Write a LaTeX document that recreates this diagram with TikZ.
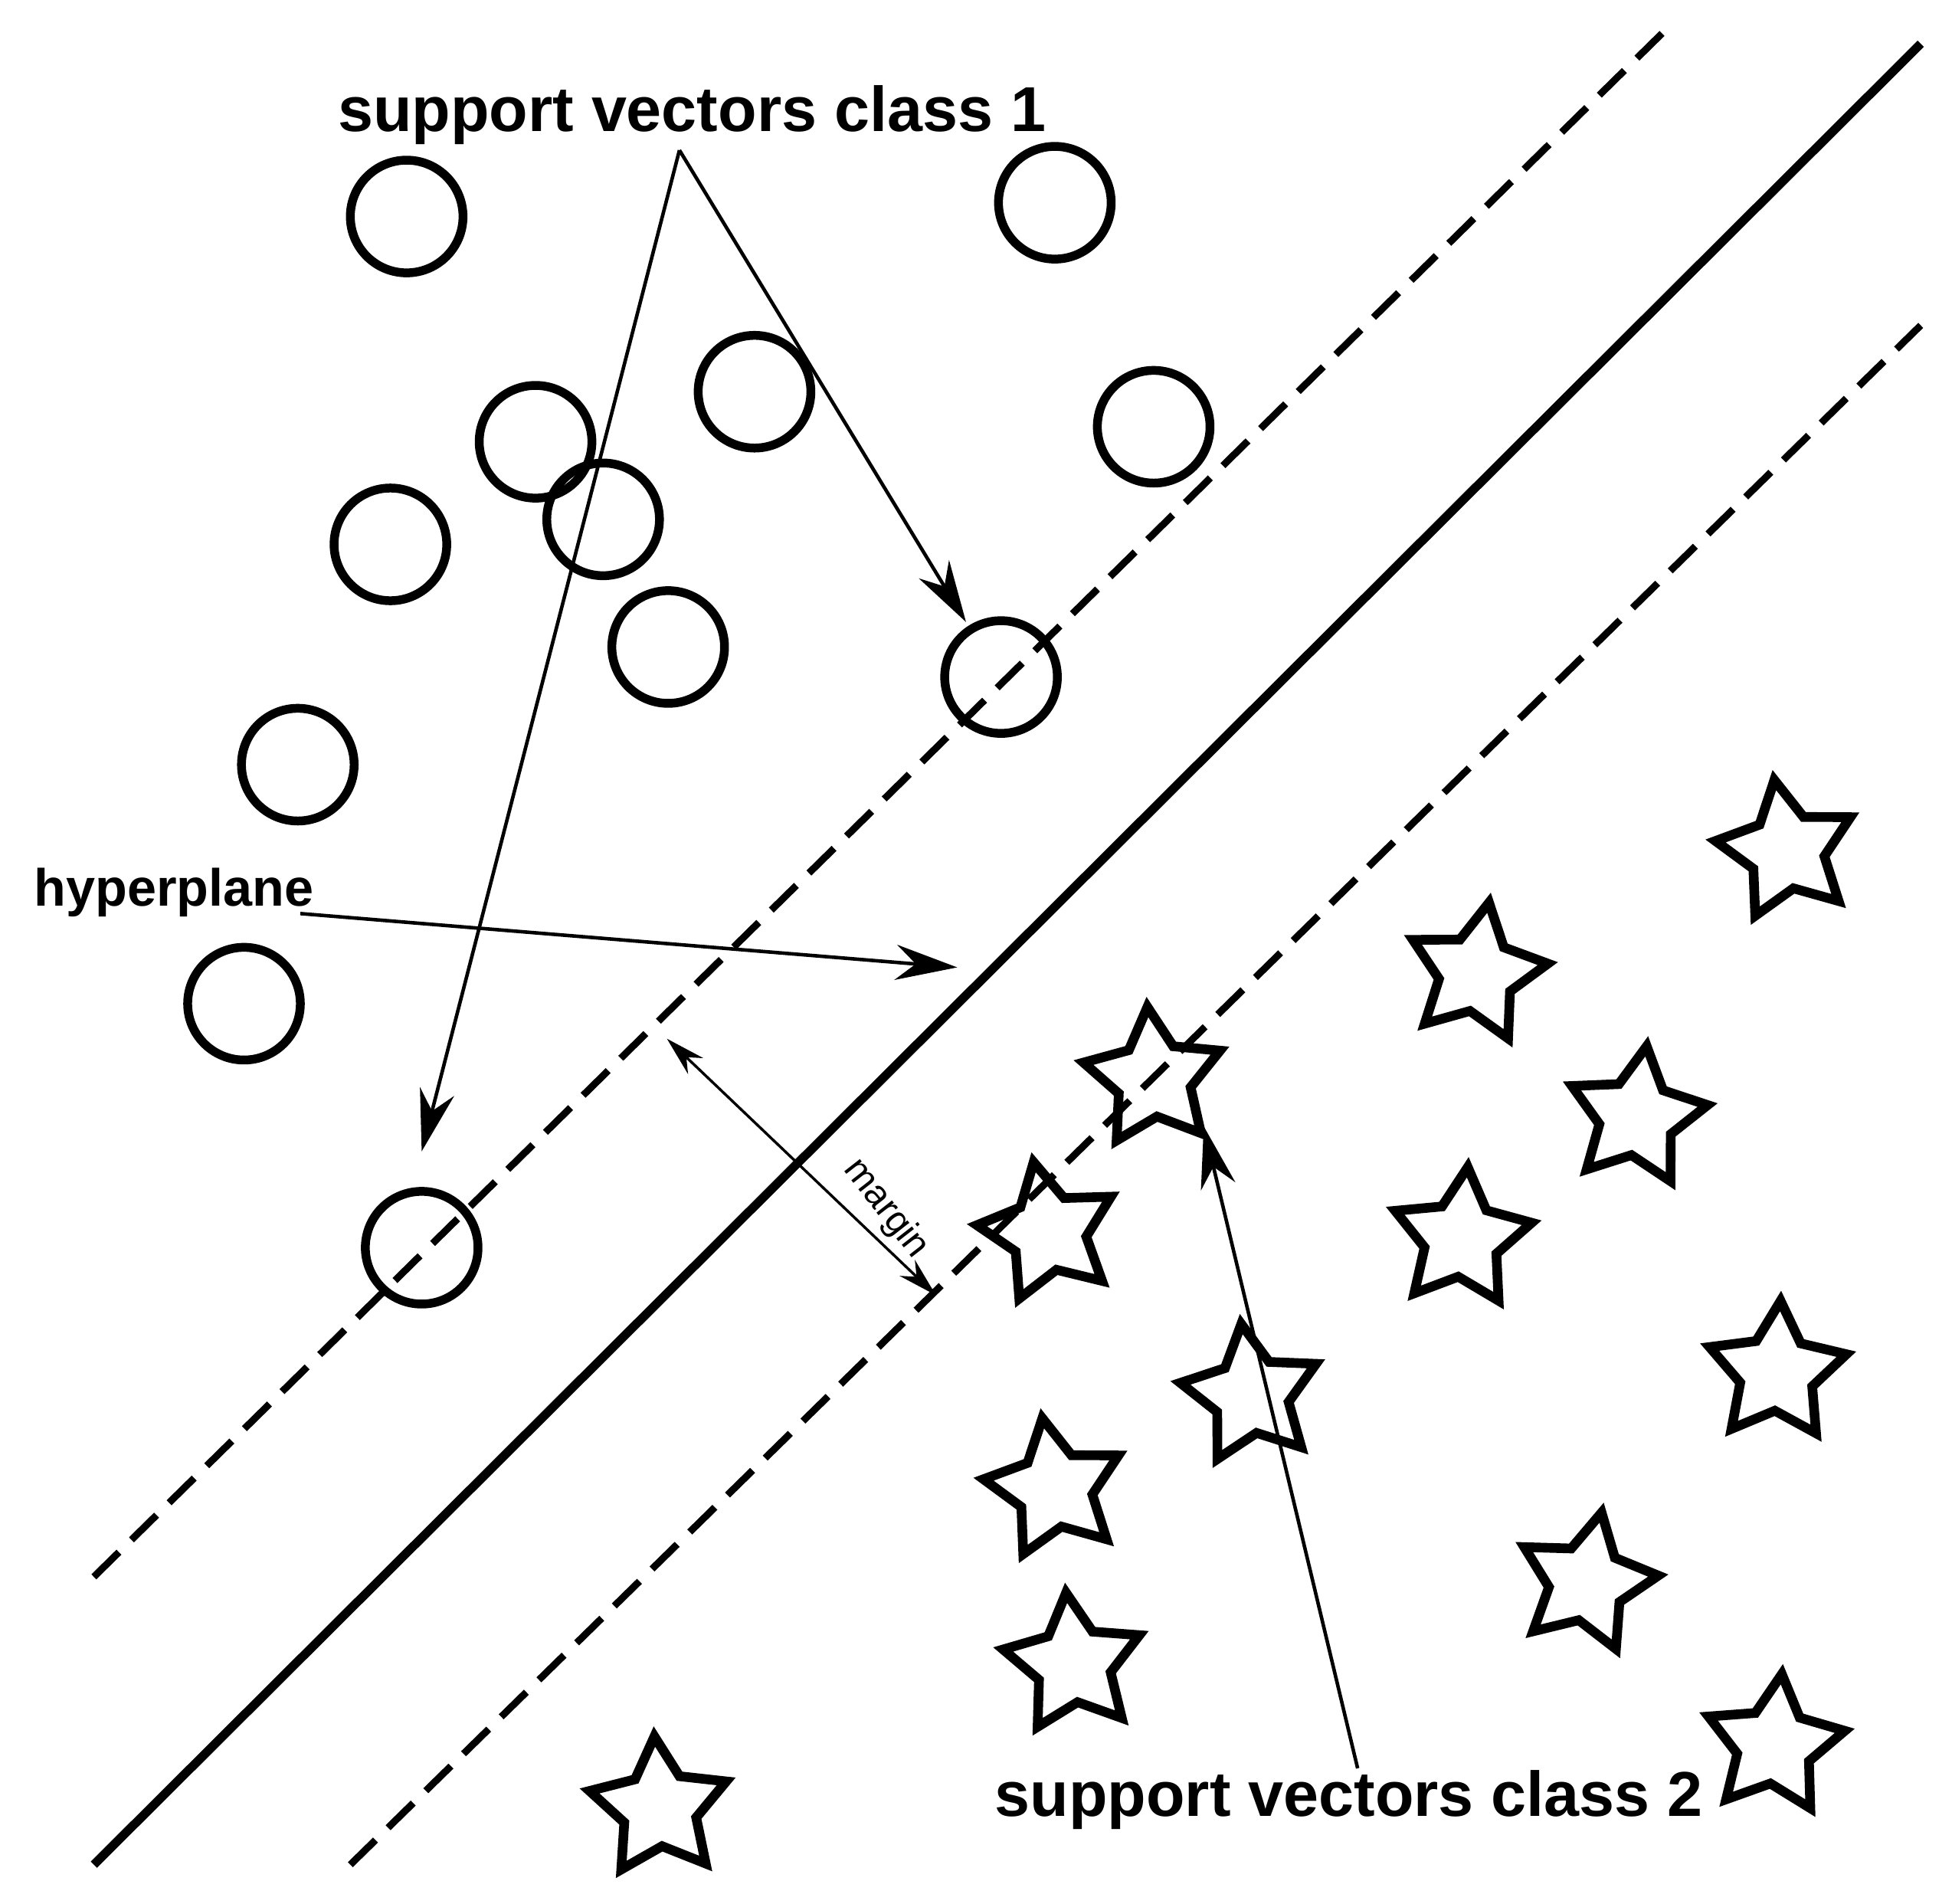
\documentclass[tikz,border=0pt]{standalone}
\usepackage{fontspec}
\setmainfont{Liberation Sans}
\usetikzlibrary{shapes.geometric,arrows.meta}
\begin{document}
\begin{tikzpicture}[x=0.01cm,y=-0.01cm,
  pt/.style={circle,draw,line width=2pt,minimum size=0.9cm,inner sep=0},
  st/.style={star,star points=5,star point ratio=1.9,draw,line width=2.2pt,minimum size=1.15cm,inner sep=0},
  arr/.style={line width=0.8pt,-{Stealth[length=14pt,width=8pt]}},
  big/.style={font=\bfseries\fontsize{14.4}{16}\selectfont}]
\useasboundingbox (0,0) rectangle (1560,1521);
\coordinate (s1) at (75,1490); \coordinate (s2) at (1535,35);
\coordinate (u1) at (75,1260); \coordinate (u2) at (1330,25);
\coordinate (l1) at (280,1490); \coordinate (l2) at (1535,260);
\draw[line width=2pt] (s1) -- (s2);
\draw[line width=1.6pt,dash pattern=on 8pt off 4pt] (u1) -- (u2);
\draw[line width=1.6pt,dash pattern=on 8pt off 4pt] (l1) -- (l2);
\foreach \n/\x/\y in {c1/325/173,c2/843/162,c3/603/313,c4/428/353,c5/922/341,c6/312/435,c7/482/415,c8/534/517,c9/800/541,c10/238/611,c11/195/802,c12/337/997}
  \node[pt] (\n) at (\x,\y) {};
\foreach \n/\x/\y/\r in {t1/1428/680/10,t2/1180/778/-10,t3/922/862/5,t4/1308/893/-8,t5/838/985/12,t6/1168/990/-5,t7/1000/1115/8,t8/1420/1097/-3,t9/843/1190/10,t10/1268/1265/-12,t11/858/1330/6,t12/1418/1395/-6,t13/527/1445/4}
  \node[st,rotate=\r] (\n) at (\x,\y) {};
\node[big] (lab1) at (553,92) {support vectors class 1};
\node[big] (lab2) at (1078,1438) {support vectors class 2};
\node[font=\bfseries\fontsize{11.9}{13}\selectfont,anchor=west] (hp) at (15,713) {hyperplane};
\node[font=\fontsize{8.5}{10}\selectfont,rotate=-52] (mg) at (708,966) {margin};
\coordinate (a0) at (543,120);
\coordinate (a1) at (772,497);
\coordinate (a2) at (337,920);
\coordinate (h0) at (240,730);
\coordinate (h1) at (765,773);
\coordinate (m0) at (533,830);
\coordinate (m1) at (748,1035);
\coordinate (b0) at (1085,1413);
\coordinate (b1) at (962,900);
\draw[arr] (a0) -- (a1);
\draw[arr] (a0) -- (a2);
\draw[arr] (h0) -- (h1);
\draw[line width=0.6pt,{Stealth[length=9pt,width=5pt]}-{Stealth[length=9pt,width=5pt]}] (m0) -- (m1);
\draw[arr] (b0) -- (b1);
\end{tikzpicture}
\end{document}
